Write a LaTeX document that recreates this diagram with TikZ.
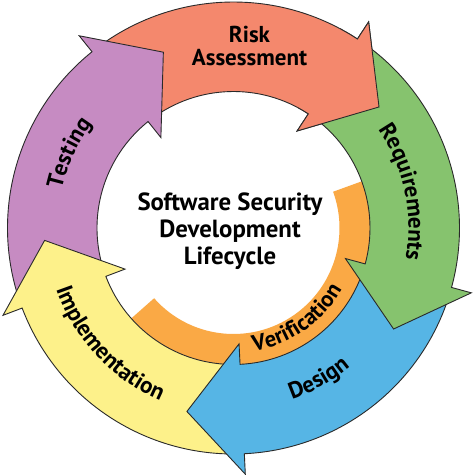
\documentclass[tikz,border=0pt]{standalone}
\usepackage{fontspec}
\setmainfont{PT Sans}
\usetikzlibrary{decorations.text}
\definecolor{riskc}{HTML}{F4886D}
\definecolor{reqc}{HTML}{86C36E}
\definecolor{desc}{HTML}{56B5E5}
\definecolor{impc}{HTML}{FDF18A}
\definecolor{tesc}{HTML}{C68BC2}
\definecolor{verc}{HTML}{FAA945}
\definecolor{edgec}{HTML}{2A2A2A}
\newcommand{\lblfont}{\fontsize{23}{23}\selectfont\bfseries}
\newcommand{\verfont}{\fontsize{22.5}{22.5}\selectfont\bfseries}
\newcommand{\sdlarrow}[2]{%
  \pgfmathsetmacro\sdlT{#1+70}%
  \pgfmathsetmacro\sdlP{#1-17}%
  \draw[arrowbody, fill=#2] (\sdlT:226) arc[start angle=\sdlT, end angle=#1, radius=226pt]
    -- (#1:246.5) -- (\sdlP:189.3) -- (#1:116) -- (#1:136.5)
    arc[start angle=#1, end angle=\sdlT, radius=136.5pt] -- cycle;}
\begin{document}
\begin{tikzpicture}[x=1pt,y=1pt,
  arrowbody/.style={draw=edgec, line width=0.9pt, line join=miter},
  arclabel/.style={decorate, decoration={text along path, text align=center, text={|\lblfont|#1}}},
  verlabel/.style={decorate, decoration={text along path, text align=center, text={|\verfont|#1}}}]
\useasboundingbox[fill=white] (-233.5,-247) rectangle (240.5,228);
% inner verification band
\fill[verc] (20:136.5) arc[start angle=20, end angle=-138.5, radius=136.5pt]
  -- (-138.5:106) arc[start angle=-138.5, end angle=20, radius=106pt] -- cycle;
% arrows (clockwise cycle)
\sdlarrow{56.75}{riskc}
\sdlarrow{128.75}{tesc}
\sdlarrow{200.75}{impc}
\sdlarrow{-87.25}{desc}
\sdlarrow{-15.25}{reqc}
\begin{scope}
  \clip (0,0) -- (62:300) arc[start angle=62, end angle=28, radius=300pt] -- cycle;
  \sdlarrow{56.75}{riskc}
\end{scope}
% labels
\node[align=center, font=\fontsize{24.8}{27}\selectfont\bfseries] (title) at (-3.5,-3)
  {Software Security\\Development\\Lifecycle};
\node[align=center, inner sep=0pt, font=\fontsize{23}{22.5}\selectfont\bfseries] (risk) at (16,182)
  {Risk\\Assessment};
\path[arclabel=Requirements] (47:175) arc[start angle=47, end angle=-23, radius=175pt];
\path[arclabel=Design] (-95:181) arc[start angle=-95, end angle=-26, radius=181pt];
\path[verlabel=Verification] (-95:124.5) arc[start angle=-95, end angle=-15, radius=124.5pt];
\path[arclabel=Implementation] (188:187.5) arc[start angle=188, end angle=258, radius=187.5pt];
\path[arclabel=Testing] (190:176) arc[start angle=190, end angle=121, radius=176pt];
\end{tikzpicture}
\end{document}
